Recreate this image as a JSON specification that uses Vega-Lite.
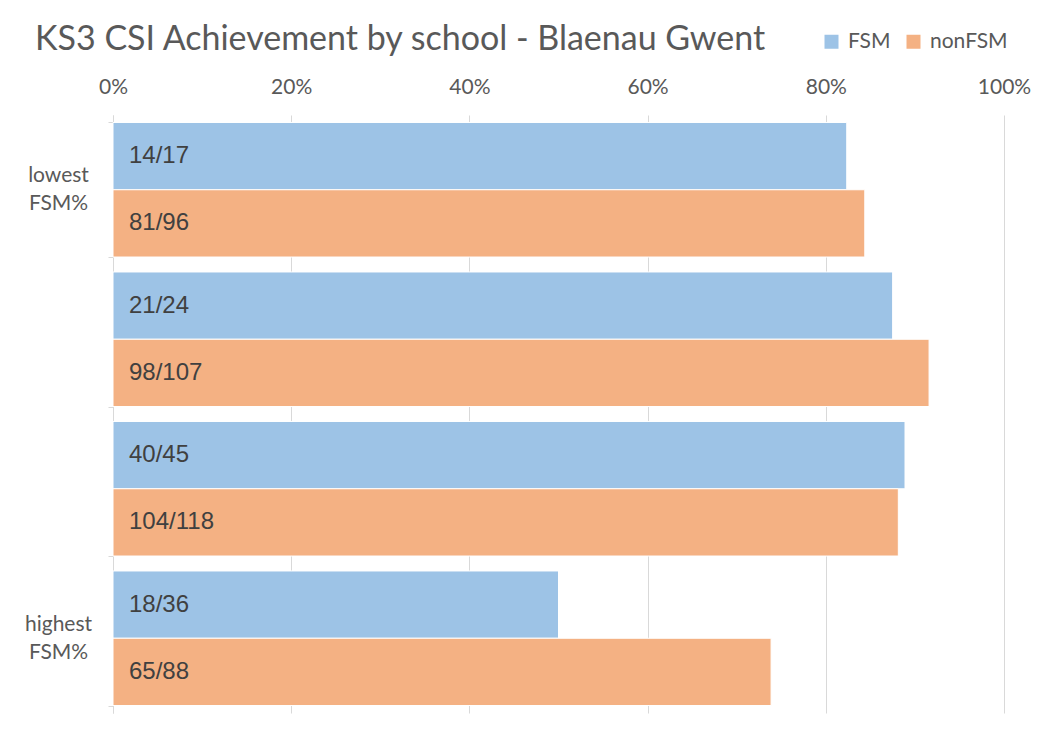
{
  "$schema": "https://vega.github.io/schema/vega-lite/v6.json",
  "autosize": {"type": "none"},
  "width": 891,
  "height": 598,
  "padding": {"left": 113, "top": 115, "right": 33, "bottom": 30},
  "background": "white",
  "title": {
    "text": "KS3 CSI Achievement by school - Blaenau Gwent",
    "anchor": "start",
    "frame": "group",
    "font": "Lato",
    "fontSize": 34,
    "fontWeight": "normal",
    "color": "#595959",
    "dx": -78,
    "offset": -26
  },
  "data": {
    "values": [
      {"school": "lowest FSM%", "group": "FSM", "passed": 14, "total": 17, "rate": 0.8235, "label": "14/17"},
      {"school": "lowest FSM%", "group": "nonFSM", "passed": 81, "total": 96, "rate": 0.84375, "label": "81/96"},
      {"school": "school 2", "group": "FSM", "passed": 21, "total": 24, "rate": 0.875, "label": "21/24"},
      {"school": "school 2", "group": "nonFSM", "passed": 98, "total": 107, "rate": 0.9159, "label": "98/107"},
      {"school": "school 3", "group": "FSM", "passed": 40, "total": 45, "rate": 0.8889, "label": "40/45"},
      {"school": "school 3", "group": "nonFSM", "passed": 104, "total": 118, "rate": 0.8814, "label": "104/118"},
      {"school": "highest FSM%", "group": "FSM", "passed": 18, "total": 36, "rate": 0.5, "label": "18/36"},
      {"school": "highest FSM%", "group": "nonFSM", "passed": 65, "total": 88, "rate": 0.7386, "label": "65/88"}
    ]
  },
  "encoding": {
    "y": {
      "field": "school",
      "type": "nominal",
      "sort": ["lowest FSM%", "school 2", "school 3", "highest FSM%"],
      "scale": {"paddingInner": 0.1, "paddingOuter": 0.05},
      "axis": {
        "title": null,
        "labelExpr": "datum.label == 'lowest FSM%' ? ['lowest', 'FSM%'] : datum.label == 'highest FSM%' ? ['highest', 'FSM%'] : ''",
        "labelFont": "Lato",
        "labelFontSize": 21,
        "labelColor": "#595959",
        "labelAlign": "center",
        "labelPadding": 50,
        "labelLineHeight": 28,
        "labelOffset": -14,
        "tickBand": "extent",
        "tickSize": 5,
        "tickColor": "#d9d9d9",
        "domainColor": "#d9d9d9",
        "grid": false
      }
    },
    "yOffset": {"field": "group", "type": "nominal", "sort": ["FSM", "nonFSM"], "scale": {"paddingInner": 0.0}}
  },
  "layer": [
    {
      "mark": {"type": "bar", "stroke": "white", "strokeWidth": 1},
      "encoding": {
        "x": {
          "field": "rate",
          "type": "quantitative",
          "scale": {"domain": [0, 1]},
          "axis": {
            "orient": "top",
            "format": ".0%",
            "values": [0, 0.2, 0.4, 0.6, 0.8, 1],
            "title": null,
            "domain": false,
            "ticks": false,
            "labelFont": "Lato",
            "labelFontSize": 21,
            "labelColor": "#595959",
            "labelPadding": 18,
            "labelOverlap": false,
            "labelFlush": false,
            "gridColor": "#d9d9d9",
            "gridWidth": 1
          }
        },
        "color": {
          "field": "group",
          "type": "nominal",
          "sort": ["FSM", "nonFSM"],
          "scale": {"domain": ["FSM", "nonFSM"], "range": ["#9DC3E6", "#F4B183"]},
          "legend": {
            "title": null,
            "orient": "none",
            "direction": "horizontal",
            "legendX": 708,
            "legendY": -84,
            "symbolType": "square",
            "symbolSize": 196,
            "symbolStrokeWidth": 0,
            "labelFont": "Lato",
            "labelFontSize": 21,
            "labelColor": "#595959",
            "columnPadding": 12,
            "labelOffset": 6
          }
        }
      }
    },
    {
      "mark": {"type": "text", "align": "left", "dx": 16, "font": "Liberation Sans", "fontSize": 24, "color": "#404040", "baseline": "middle"},
      "encoding": {
        "x": {
          "datum": 0,
          "type": "quantitative",
          "axis": {
            "orient": "top",
            "format": ".0%",
            "values": [0, 0.2, 0.4, 0.6, 0.8, 1],
            "title": null,
            "domain": false,
            "ticks": false,
            "labelFont": "Lato",
            "labelFontSize": 21,
            "labelColor": "#595959",
            "labelPadding": 18,
            "labelOverlap": false,
            "labelFlush": false,
            "gridColor": "#d9d9d9",
            "gridWidth": 1
          }
        },
        "text": {"field": "label"}
      }
    }
  ],
  "config": {"view": {"stroke": null}}
}
